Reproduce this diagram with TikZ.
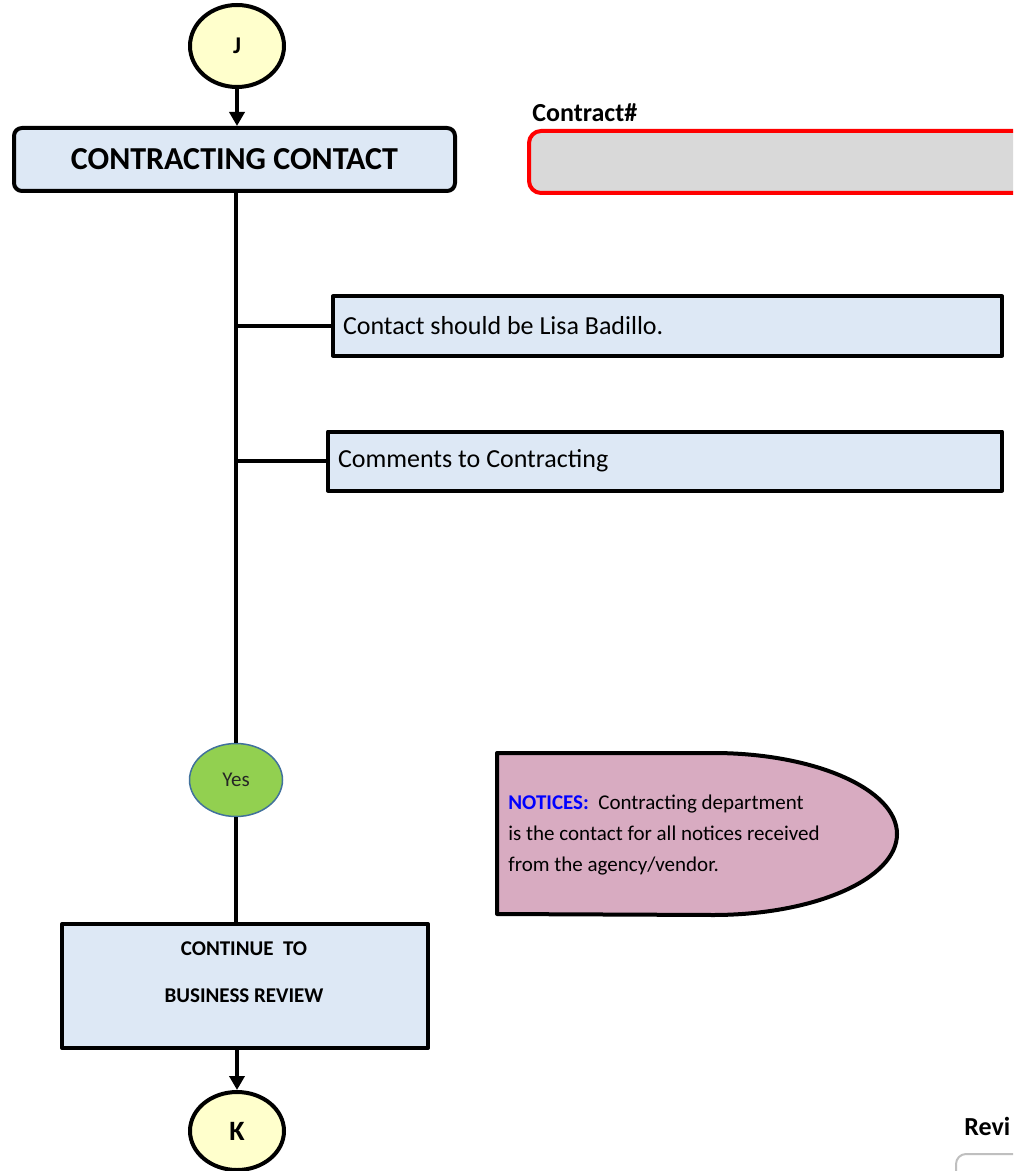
\documentclass[tikz,border=0pt]{standalone}
\usepackage{fontspec}
\setmainfont{Carlito}
\usetikzlibrary{shapes.geometric,arrows.meta}
\definecolor{boxblue}{HTML}{DDE8F5}
\definecolor{termyellow}{HTML}{FFFFCC}
\definecolor{noticepink}{HTML}{D8ABC1}
\definecolor{yesgreen}{HTML}{92D050}
\definecolor{yesedge}{HTML}{41719C}
\definecolor{fieldgrey}{HTML}{D9D9D9}
\tikzset{
	term/.style={ellipse, draw, line width=2pt, fill=termyellow, minimum width=47pt, minimum height=39pt, inner sep=0pt},
	stepbox/.style={rectangle, draw, line width=2pt, fill=boxblue, inner sep=0pt},
	notebox/.style={stepbox, align=flush left, inner xsep=5pt, minimum height=29.5pt, font=\fontsize{13}{15}\selectfont},
	link/.style={line width=2pt},
}
\begin{document}
\begin{tikzpicture}[x=0.5pt, y=-0.5pt, line join=round, >={Triangle[width=7.5pt,length=7pt]}]
			\useasboundingbox (0,0) rectangle (1013,1171);
			\clip (0,0) rectangle (1013,1171);
			% main column
			\node[term, minimum height=41pt, font=\bfseries\fontsize{12}{14}\selectfont] (J) at (237,46) {J};
			\node[stepbox, rounded corners=4pt, minimum width=220.5pt, minimum height=31.5pt, font=\bfseries\fontsize{16}{19}\selectfont] (cc) at (234.5,159.5) {CONTRACTING CONTACT};
			\node[ellipse, draw=yesedge, line width=0.75pt, fill=yesgreen, minimum width=46.5pt, minimum height=36.5pt, text=black!85, font=\fontsize{10.5}{12}\selectfont] (yes) at (236,780) {Yes};
			\node[stepbox, minimum width=183pt, minimum height=62pt] (cont) at (245,986) {};
			\node[anchor=north, align=center, inner sep=0pt, font=\bfseries\fontsize{10.5}{23.5}\selectfont] (conttext) at (244,941) {CONTINUE\ \ TO\\BUSINESS REVIEW};
			\node[term, font=\bfseries\fontsize{14}{16}\selectfont] (K) at (237,1131) {K};
			% comment boxes
			\node[notebox, text width=324.5pt] (contact) at (667.5,326) {Contact should be Lisa Badillo.};
			\node[notebox, text width=327pt] (comments) at (665,461) {Comments to Contracting};
			\draw[link,->] (J) -- (J |- cc.north);
			\draw[link] (cc.south -| yes) -- (yes.north);
			\draw[link] (yes |- contact.west) -- (contact.west) (yes |- comments.west) -- (comments.west);
			\draw[link] (yes.south) -- (yes.south |- cont.north);
			\draw[link,->] (K |- cont.south) -- (K.north);
			% contract field
			\node[anchor=base west, inner sep=0pt, font=\bfseries\fontsize{13}{15}\selectfont] (contractlbl) at (532,122) {Contract\#};
			\node[anchor=north west, draw=red, line width=2pt, fill=fieldgrey, rounded corners=6pt, minimum width=300pt, minimum height=31pt, inner sep=0pt] (contractno) at (527,129) {};
			% notice
			\draw[line width=2pt, fill=noticepink] (497,914) -- (497,753) -- (713,753) arc[start angle=90, end angle=-90, x radius=92pt, y radius=40.5pt] -- cycle;
			\node[anchor=north west, align=left, inner sep=0pt, font=\fontsize{10.5}{15.5}\selectfont] (noticetext) at (508,795) {\textcolor{blue}{\bfseries NOTICES:}\ \ Contracting department\\is the contact for all notices received\\from the agency/vendor.};
			% review (cut off)
			\node[anchor=base west, inner sep=0pt, font=\bfseries\fontsize{13}{15}\selectfont] (reviewlbl) at (964,1135) {Revi};
			\node[anchor=north west, draw=black!25, line width=1pt, fill=white, rounded corners=5pt, minimum width=100pt, minimum height=40pt] (reviewfield) at (955,1153) {};
		\end{tikzpicture}
\end{document}
